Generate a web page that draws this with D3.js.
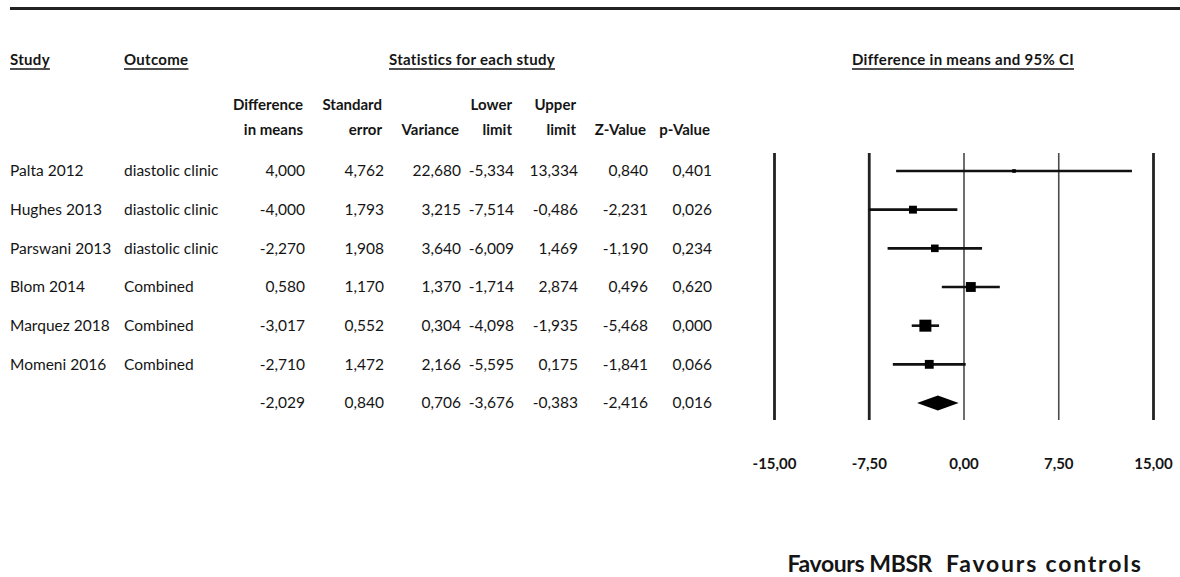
<!DOCTYPE html>
<html>
<head>
<meta charset="utf-8">
<script src="https://cdn.jsdelivr.net/npm/d3@7"></script>
<style>
  html, body { margin: 0; padding: 0; background: #fff; }
  svg { display: block; font-family: Lato, "Open Sans", sans-serif; }
</style>
</head>
<body>
<svg id="chart" width="1180" height="577"></svg>
<script>
// Study-level statistics (difference in means, MBSR vs controls)
const studies     = ["Palta 2012", "Hughes 2013", "Parswani 2013", "Blom 2014", "Marquez 2018", "Momeni 2016"];
const outcomes    = ["diastolic clinic", "diastolic clinic", "diastolic clinic", "Combined", "Combined", "Combined"];
const diffMeans   = [4.000, -4.000, -2.270, 0.580, -3.017, -2.710];
const stdErrors   = [4.762, 1.793, 1.908, 1.170, 0.552, 1.472];
const variances   = [22.680, 3.215, 3.640, 1.370, 0.304, 2.166];
const lowerLimits = [-5.334, -7.514, -6.009, -1.714, -4.098, -5.595];
const upperLimits = [13.334, -0.486, 1.469, 2.874, -1.935, 0.175];
const zValues     = [0.840, -2.231, -1.190, 0.496, -5.468, -1.841];
const pValues     = [0.401, 0.026, 0.234, 0.620, 0.000, 0.066];

// Pooled (random effects) summary row
const pooledDiff  = -2.029;
const pooledSE    = 0.840;
const pooledVar   = 0.706;
const pooledLower = -3.676;
const pooledUpper = -0.383;
const pooledZ     = -2.416;
const pooledP     = 0.016;

// Axis ticks and side labels
const tickValues  = [-15, -7.5, 0, 7.5, 15];
const tickLabels  = ["-15,00", "-7,50", "0,00", "7,50", "15,00"];
const favoursLeft  = "Favours MBSR";
const favoursRight = "Favours controls";

const svg = d3.select("#chart");
const ink = "#151515";

// Decimal comma formatting
const locale = d3.formatLocale({decimal: ",", thousands: ".", grouping: [3], currency: ["", ""], minus: "-"});
const f3 = locale.format(".3f");

// Top rule
svg.append("line")
  .attr("x1", 10).attr("x2", 1180).attr("y1", 8.5).attr("y2", 8.5)
  .attr("stroke", "#222").attr("stroke-width", 3.2);

// Scales
const x = d3.scaleLinear().domain([-15, 15]).range([774, 1153]);
const rowIndex = d3.range(studies.length + 1);
const y = d3.scalePoint().domain(rowIndex).range([171, 403]);

// Random-effects weights (DerSimonian-Laird) set the box sizes
const wFixed = variances.map(v => 1 / v);
const sumW = d3.sum(wFixed);
const meanFixed = d3.sum(wFixed.map((w, i) => w * diffMeans[i])) / sumW;
const Q = d3.sum(wFixed.map((w, i) => w * (diffMeans[i] - meanFixed) ** 2));
const C = sumW - d3.sum(wFixed.map(w => w * w)) / sumW;
const tau2 = Math.max(0, (Q - (studies.length - 1)) / C);
const wRandom = variances.map(v => 1 / (v + tau2));
const boxSize = d3.scaleSqrt().domain([0, d3.max(wRandom)]).range([0, 12]);

// ---------- Table ----------
const g = svg.append("g").attr("fill", ink);

function underlined(text, xPos, yPos, anchor) {
  const t = g.append("text")
    .attr("x", xPos).attr("y", yPos)
    .attr("text-anchor", anchor)
    .attr("font-size", 15).attr("font-weight", 700)
    .attr("letter-spacing", 0.3)
    .text(text);
  const w = t.node().getComputedTextLength();
  const x0 = anchor === "middle" ? xPos - w / 2 : xPos;
  g.append("line")
    .attr("x1", x0).attr("x2", x0 + w)
    .attr("y1", yPos + 4).attr("y2", yPos + 4)
    .attr("stroke", ink).attr("stroke-width", 1.4);
}

underlined("Study", 10, 65, "start");
underlined("Outcome", 124, 65, "start");
underlined("Statistics for each study", 472, 65, "middle");
underlined("Difference in means and 95% CI", 963, 65, "middle");

// Column headers (two lines, right aligned)
const colRight = [305, 384, 461, 514, 578, 648, 712];
const headTop = ["Difference", "Standard", "", "Lower", "Upper", "", ""];
const headBottom = ["in means", "error", "Variance", "limit", "limit", "Z-Value", "p-Value"];

colRight.forEach((cx, i) => {
  if (headTop[i]) {
    g.append("text").attr("x", cx - 2).attr("y", 110)
      .attr("text-anchor", "end").attr("font-size", 15).attr("font-weight", 700)
      .text(headTop[i]);
  }
  g.append("text").attr("x", cx - 2).attr("y", 135)
    .attr("text-anchor", "end").attr("font-size", 15).attr("font-weight", 700)
    .text(headBottom[i]);
});

// Rows
const columns = [diffMeans, stdErrors, variances, lowerLimits, upperLimits, zValues, pValues];
studies.forEach((s, i) => {
  const ry = y(i);
  g.append("text").attr("x", 10).attr("y", ry).attr("dy", "0.35em")
    .attr("font-size", 15.5).text(s);
  g.append("text").attr("x", 124).attr("y", ry).attr("dy", "0.35em")
    .attr("font-size", 15.5).text(outcomes[i]);
  columns.forEach((col, c) => {
    g.append("text").attr("x", colRight[c]).attr("y", ry).attr("dy", "0.35em")
      .attr("text-anchor", "end").attr("font-size", 15.5)
      .text(f3(col[i]));
  });
});

const pooledRow = [pooledDiff, pooledSE, pooledVar, pooledLower, pooledUpper, pooledZ, pooledP];
const py = y(studies.length);
pooledRow.forEach((v, c) => {
  g.append("text").attr("x", colRight[c]).attr("y", py).attr("dy", "0.35em")
    .attr("text-anchor", "end").attr("font-size", 15.5)
    .text(f3(v));
});

// ---------- Forest plot ----------
const axis = d3.axisBottom(x)
  .tickValues(tickValues)
  .tickFormat((d, i) => tickLabels[i])
  .tickSizeInner(-(420 - 153))
  .tickSizeOuter(0)
  .tickPadding(38);

const ax = svg.append("g")
  .attr("transform", "translate(0,420)")
  .call(axis);
ax.select(".domain").remove();
ax.selectAll(".tick line")
  .attr("stroke", d => (d === 0 || d === 7.5) ? "#4a4a4a" : "#222")
  .attr("stroke-width", d => (d === 0 || d === 7.5) ? 1.6 : 2.8);
ax.selectAll(".tick text")
  .attr("fill", ink)
  .attr("font-family", "Lato, 'Open Sans', sans-serif")
  .attr("font-size", 15).attr("font-weight", 700);

// Confidence intervals
const plot = svg.append("g");
plot.selectAll("line.ci")
  .data(studies.map((s, i) => i))
  .join("line")
  .attr("class", "ci")
  .attr("x1", i => x(lowerLimits[i]))
  .attr("x2", i => x(upperLimits[i]))
  .attr("y1", i => y(i)).attr("y2", i => y(i))
  .attr("stroke", "#111").attr("stroke-width", 2.6);

// Weight boxes
plot.selectAll("rect.box")
  .data(studies.map((s, i) => i))
  .join("rect")
  .attr("class", "box")
  .attr("x", i => x(diffMeans[i]) - boxSize(wRandom[i]) / 2)
  .attr("y", i => y(i) - boxSize(wRandom[i]) / 2)
  .attr("width", i => boxSize(wRandom[i]))
  .attr("height", i => boxSize(wRandom[i]))
  .attr("fill", "#000");

// Pooled diamond
const dh = 7.5;
plot.append("path")
  .attr("d", `M${x(pooledLower)},${py} L${x(pooledDiff)},${py - dh} L${x(pooledUpper)},${py} L${x(pooledDiff)},${py + dh} Z`)
  .attr("fill", "#000");

// Direction labels
svg.append("text")
  .attr("x", 932).attr("y", 572)
  .attr("text-anchor", "end")
  .attr("font-size", 23).attr("font-weight", 700).attr("fill", ink)
  .attr("letter-spacing", -0.4)
  .text(favoursLeft);
svg.append("text")
  .attr("x", 946).attr("y", 572)
  .attr("text-anchor", "start")
  .attr("font-size", 23).attr("font-weight", 700).attr("fill", ink)
  .attr("letter-spacing", 1.8)
  .text(favoursRight);
</script>
</body>
</html>
